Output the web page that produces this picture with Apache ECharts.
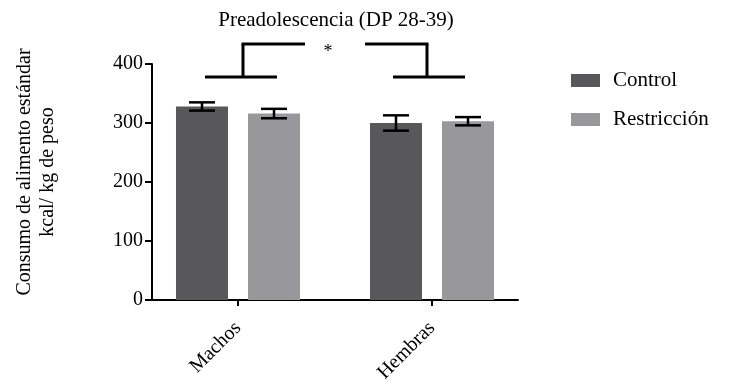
<!DOCTYPE html>
<html>
<head>
<meta charset="utf-8">
<script src="https://cdn.jsdelivr.net/npm/echarts@6/dist/echarts.min.js"></script>
<style>html,body{margin:0;padding:0;background:#fff}#c{width:731px;height:388px}</style>
</head>
<body>
<div id="c"></div>
<script>
// ---- data ----
const categories = ['Machos', 'Hembras'];
const seriesNames = ['Control', 'Restricción'];
const controlValues = [328, 300];
const controlErrors = [7, 13];
const restriccionValues = [316, 303];
const restriccionErrors = [8, 7];
const yTicks = [0, 100, 200, 300, 400];
const titleText = 'Preadolescencia (DP 28-39)';
const yAxisTitle = ['Consumo de alimento estándar', 'kcal/ kg de peso'];
const significance = '*';
// bracket levels (axis values)
const bracketLow = 378;
const bracketHigh = 434;

// ---- style ----
const FONT = 'Liberation Serif';
const C_DARK = '#58585a';
const C_LIGHT = '#98979b';
const BAR_W = 52;
const OFFSET = 36;

const chart = echarts.init(document.getElementById('c'));

function errorSeries(name, vals, errs, dx) {
  return {
    type: 'custom', name: name + ' err', xAxisIndex: 1, yAxisIndex: 1, z: 5,
    silent: true, clip: false,
    data: vals.map((v, i) => [i, v - errs[i], v + errs[i]]),
    renderItem: function (params, api) {
      const lo = api.coord([api.value(0), api.value(1)]);
      const hi = api.coord([api.value(0), api.value(2)]);
      const x = lo[0] + dx;
      const hw = 13;
      const st = { stroke: '#000', lineWidth: 2.5 };
      return { type: 'group', children: [
        { type: 'line', shape: { x1: x, y1: lo[1], x2: x, y2: hi[1] }, style: st },
        { type: 'line', shape: { x1: x - hw, y1: lo[1], x2: x + hw, y2: lo[1] }, style: st },
        { type: 'line', shape: { x1: x - hw, y1: hi[1], x2: x + hw, y2: hi[1] }, style: st }
      ]};
    }
  };
}

const option = {
  animation: false,
  backgroundColor: '#fff',
  title: {
    text: titleText, left: 336, top: 10, textAlign: 'center', padding: 0,
    textStyle: { fontFamily: FONT, fontSize: 21, fontWeight: 'normal', color: '#000' }
  },
  legend: {
    data: seriesNames, orient: 'vertical', left: 571, top: 70, padding: 0,
    icon: 'rect', itemWidth: 29, itemHeight: 13, itemGap: 18,
    textStyle: { fontFamily: FONT, fontSize: 21, lineHeight: 20, color: '#000', padding: [0, 0, 0, 8] }
  },
  grid: [
    { left: 152, right: 213, top: 64, bottom: 88 },
    { left: 141, width: 388, top: 64, bottom: 88 }
  ],
  xAxis: [
    { type: 'value', gridIndex: 0, min: 0, max: 1,
      axisLine: { show: true, lineStyle: { color: '#000', width: 2 } },
      axisTick: { show: false }, axisLabel: { show: false }, splitLine: { show: false } },
    { type: 'category', gridIndex: 1, data: categories,
      axisLine: { show: false },
      axisTick: { show: true, alignWithLabel: true, length: 6, lineStyle: { color: '#000', width: 2 } },
      axisLabel: { rotate: 45, margin: 25, fontFamily: FONT, fontSize: 20, color: '#000' } }
  ],
  yAxis: [
    { type: 'value', gridIndex: 0, min: yTicks[0], max: yTicks[yTicks.length - 1], interval: 100,
      axisLine: { show: true, lineStyle: { color: '#000', width: 2 } },
      axisTick: { show: true, length: 7, lineStyle: { color: '#000', width: 2 } },
      axisLabel: { margin: 9, fontFamily: FONT, fontSize: 20, color: '#000' },
      splitLine: { show: false } },
    { type: 'value', gridIndex: 1, min: yTicks[0], max: yTicks[yTicks.length - 1], show: false }
  ],
  graphic: [
    { type: 'text', x: 36, y: 172, rotation: Math.PI / 2,
      style: { text: yAxisTitle.join('\n'), fontFamily: FONT, fontSize: 20, fill: '#000',
               align: 'center', textAlign: 'center', verticalAlign: 'middle', textVerticalAlign: 'middle',
               lineHeight: 23 }
    }
  ],
  series: [
    { type: 'bar', name: seriesNames[0], xAxisIndex: 1, yAxisIndex: 1, data: controlValues,
      barWidth: BAR_W, barGap: '38.5%', itemStyle: { color: C_DARK } },
    { type: 'bar', name: seriesNames[1], xAxisIndex: 1, yAxisIndex: 1, data: restriccionValues,
      barWidth: BAR_W, barGap: '38.5%', itemStyle: { color: C_LIGHT } },
    errorSeries(seriesNames[0], controlValues, controlErrors, -OFFSET),
    errorSeries(seriesNames[1], restriccionValues, restriccionErrors, OFFSET),
    {
      type: 'custom', xAxisIndex: 1, yAxisIndex: 1, silent: true, clip: false, z: 6,
      data: [[0, bracketLow, bracketHigh, 1], [1, bracketLow, bracketHigh, -1]],
      renderItem: function (params, api) {
        const c = api.coord([api.value(0), api.value(1)]);
        const t = api.coord([api.value(0), api.value(2)]);
        const d = api.value(3);
        const vx = c[0] + 5 * d;
        const st = { stroke: '#000', lineWidth: 3 };
        const children = [
          { type: 'line', shape: { x1: c[0] - 33 * d, y1: c[1], x2: c[0] + 39 * d, y2: c[1] }, style: st },
          { type: 'line', shape: { x1: vx, y1: c[1], x2: vx, y2: t[1] }, style: st },
          { type: 'line', shape: { x1: vx - 1.5 * d, y1: t[1], x2: c[0] + 67 * d, y2: t[1] }, style: st }
        ];
        if (params.dataIndex === 0) {
          const o = api.coord([0, bracketHigh]);
          const o2 = api.coord([1, bracketHigh]);
          children.push({ type: 'text', style: { text: significance, x: (o[0] + o2[0]) / 2 - 7, y: t[1] + 8,
            align: 'center', verticalAlign: 'middle', fontFamily: FONT, fontSize: 18, fill: '#000' } });
        }
        return { type: 'group', children: children };
      }
    }
  ]
};
chart.setOption(option);
</script>
</body>
</html>
